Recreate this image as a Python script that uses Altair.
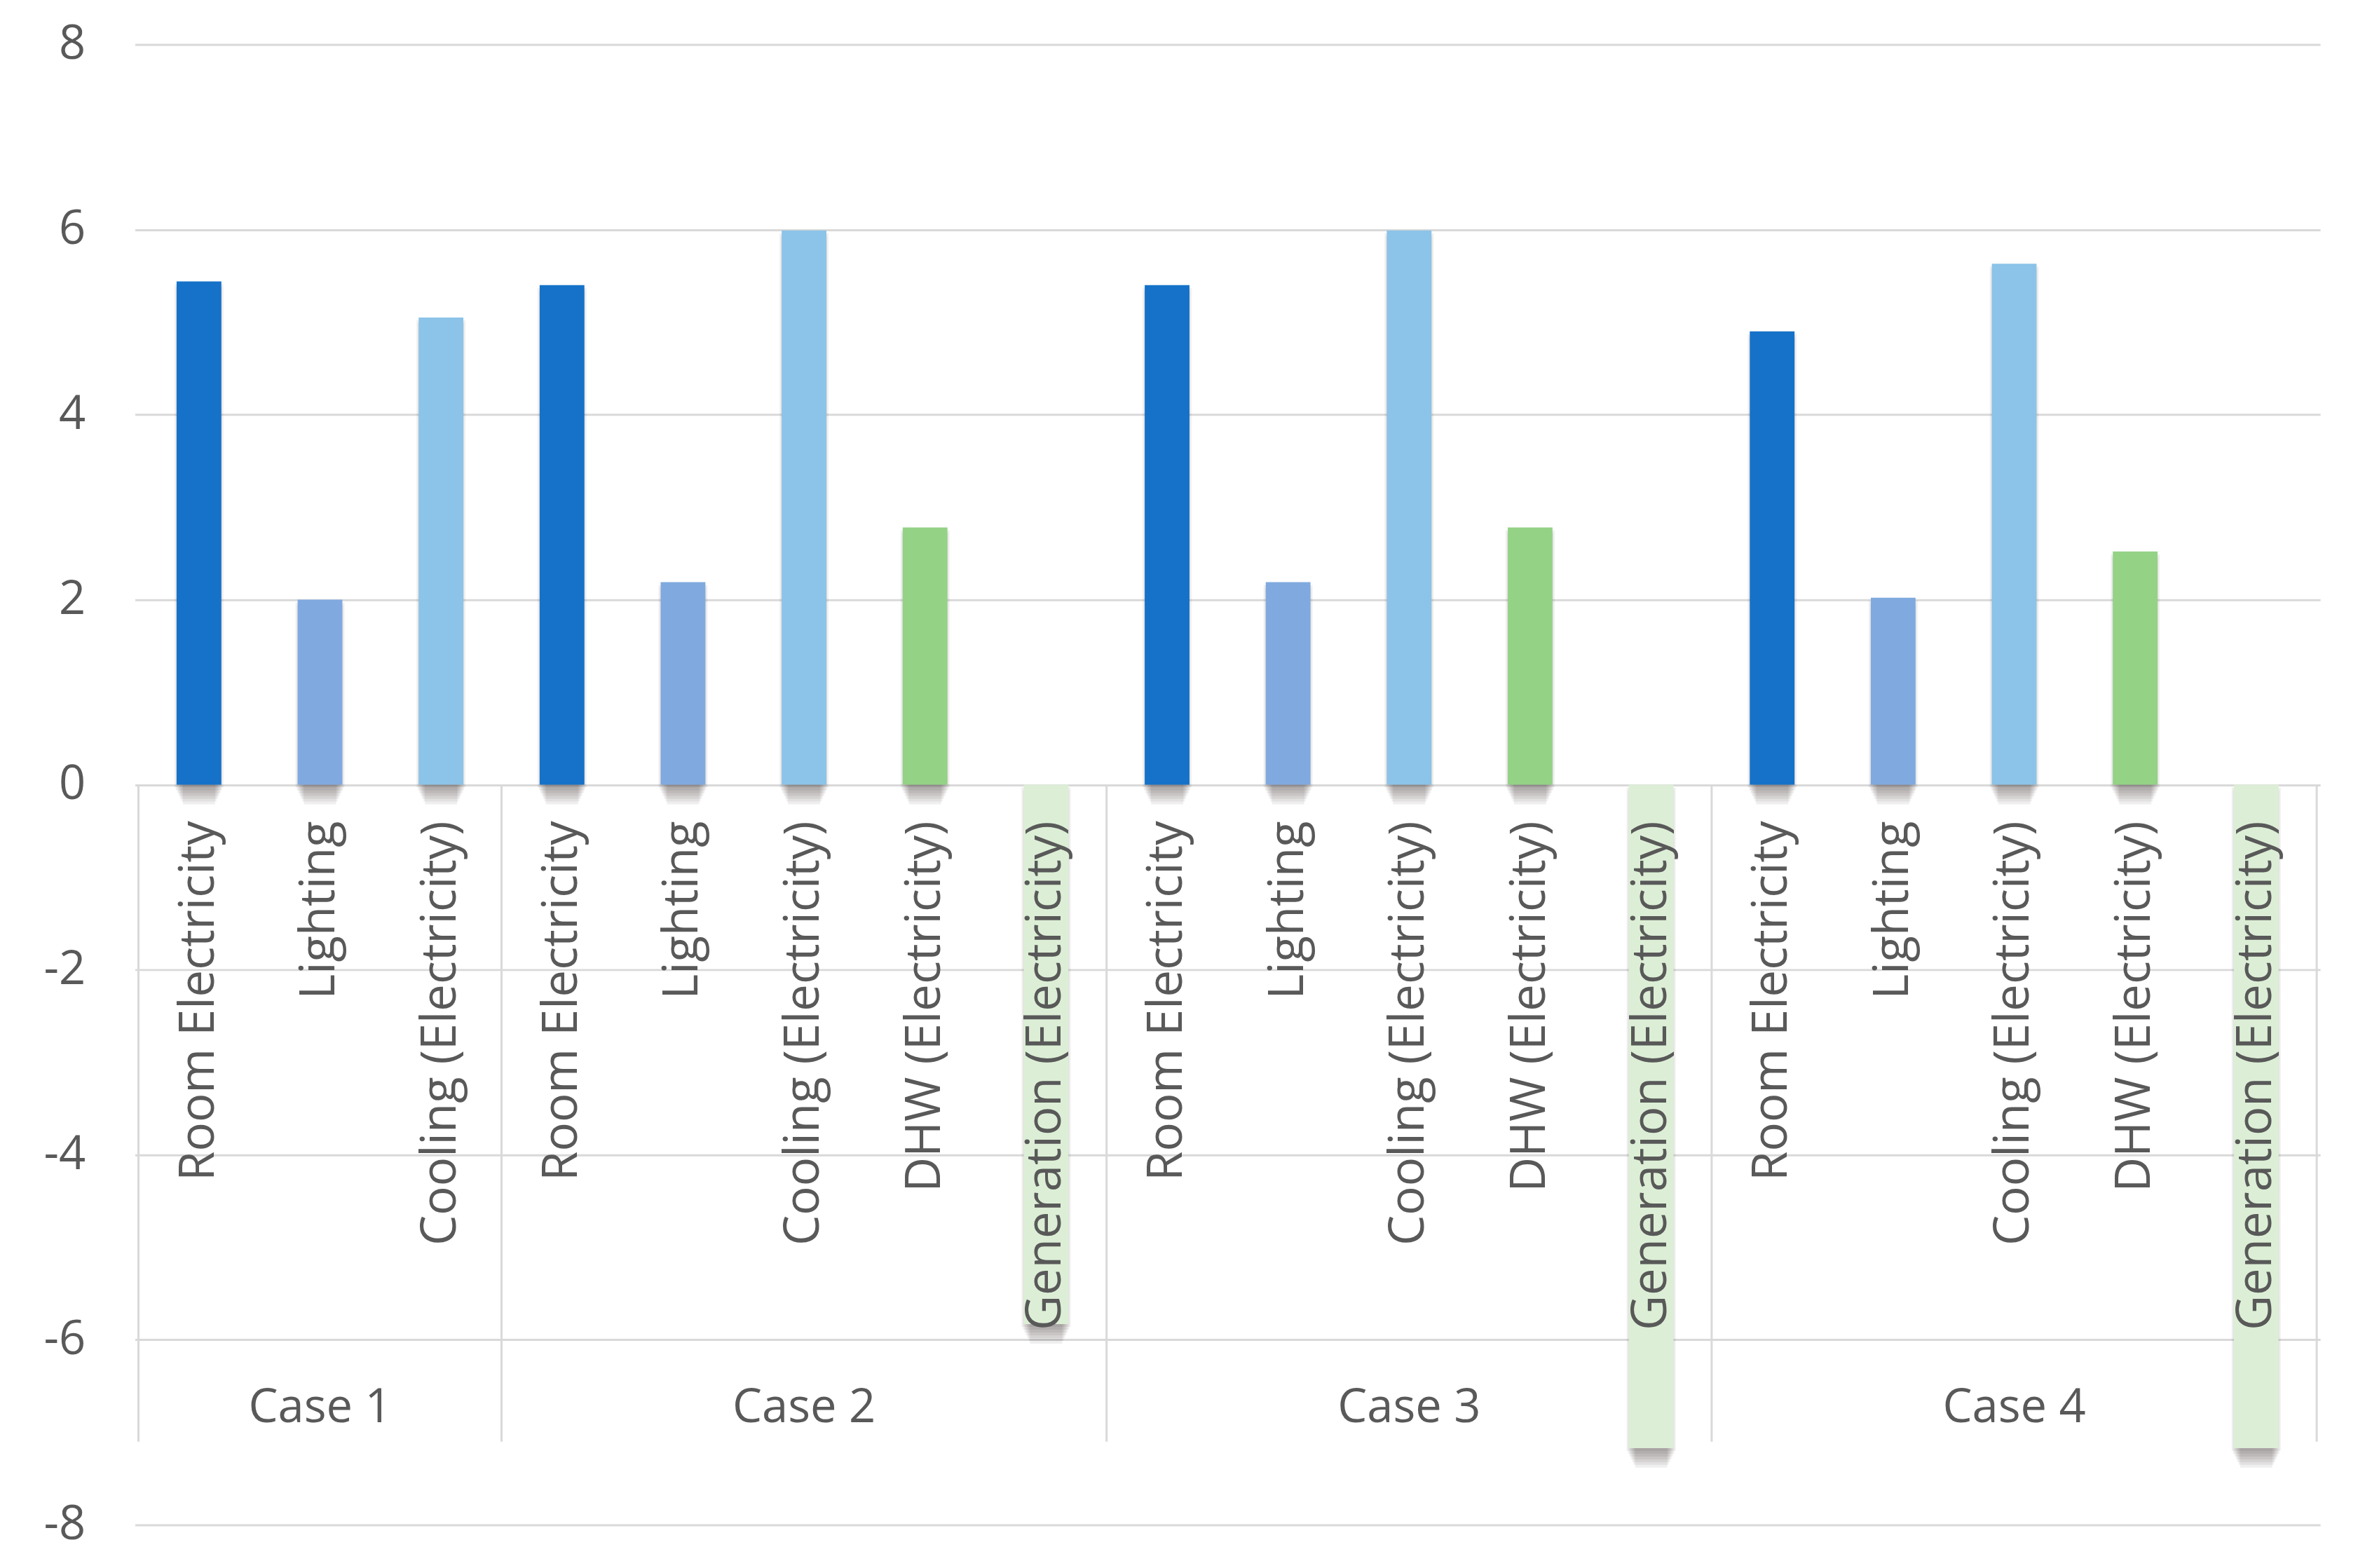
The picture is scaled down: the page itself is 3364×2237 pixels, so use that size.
import altair as alt
import pandas as pd

# ---- data ----
cases = ["Case 1", "Case 2", "Case 3", "Case 4"]
case1_items = ["Room Electricity", "Lighting", "Cooling (Electricity)"]
case1_values = [5.44, 2.00, 5.05]
case2_items = ["Room Electricity", "Lighting", "Cooling (Electricity)", "DHW (Electricity)", "Generation (Electricity)"]
case2_values = [5.40, 2.19, 5.99, 2.78, -5.83]
case3_items = ["Room Electricity", "Lighting", "Cooling (Electricity)", "DHW (Electricity)", "Generation (Electricity)"]
case3_values = [5.40, 2.19, 5.99, 2.78, -7.17]
case4_items = ["Room Electricity", "Lighting", "Cooling (Electricity)", "DHW (Electricity)", "Generation (Electricity)"]
case4_values = [4.90, 2.02, 5.63, 2.52, -7.17]
y_ticks = [-8, -6, -4, -2, 0, 2, 4, 6, 8]

series = ["Room Electricity", "Lighting", "Cooling (Electricity)", "DHW (Electricity)", "Generation (Electricity)"]
series_colors = ["#1572C8", "#80AADF", "#8CC3E8", "#94D286", "#DCEFD6"]

# ---- build tables ----
rows = []
case_rows = []
bounds = [0]
slot = 0
for case, items, vals in zip(cases,
                             [case1_items, case2_items, case3_items, case4_items],
                             [case1_values, case2_values, case3_values, case4_values]):
    start = slot
    for it, v in zip(items, vals):
        rows.append({"case": case, "item": it, "value": v, "pos": slot + 0.5})
        slot += 1
    case_rows.append({"case": case, "pos": (start + slot) / 2})
    bounds.append(slot)

df = pd.DataFrame(rows)
cdf = pd.DataFrame(case_rows)
bdf = pd.DataFrame({"b": bounds})

TEXT = "#595959"
GRID = "#D9D9D9"
FONT = "Open Sans"
n_slots = slot
SEP_BOTTOM = -7.1
CASE_LABEL_Y = -6.89

xs = alt.Scale(domain=[0, n_slots], nice=False, zero=False)
ys = alt.Scale(domain=[-8, 8], nice=False)

x_enc = alt.X("pos:Q", scale=xs, axis=None)

y_axis = alt.Axis(values=y_ticks, labelExpr="'' + datum.value", grid=True, gridColor=GRID,
                  gridWidth=3, domain=False, ticks=False, labelFont=FONT, labelFontSize=67,
                  labelColor=TEXT, labelPadding=71, title=None)

color_enc = alt.Color("item:N", scale=alt.Scale(domain=series, range=series_colors), legend=None)

# axis/grid layer (drawn first, behind everything)
axis_layer = alt.Chart(df).mark_bar(orient="vertical", size=1, opacity=0).encode(
    x=x_enc,
    y=alt.Y("value:Q", scale=ys, axis=y_axis),
    y2=alt.datum(0),
)

# soft drop shadow built from a few offset translucent bars
shadow_offsets = [4, 8, 12, 16, 20, 24, 28]
shadow_sizes = [70, 66, 62, 58, 54, 50, 46]
shadow_layers = []
for off, sz in zip(shadow_offsets, shadow_sizes):
    shadow_layers.append(
        alt.Chart(df).mark_bar(orient="vertical", size=sz, color="#302828", opacity=0.075,
                               yOffset=off, y2Offset=off).encode(
            x=x_enc,
            y=alt.Y("value:Q", scale=ys),
            y2=alt.datum(0),
        )
    )

seps = alt.Chart(bdf).mark_rule(color=GRID, strokeWidth=3).encode(
    x=alt.X("b:Q", scale=xs, axis=None),
    y=alt.datum(0, scale=ys),
    y2=alt.datum(SEP_BOTTOM),
)

bars = alt.Chart(df).mark_bar(orient="vertical", size=64).encode(
    x=x_enc,
    y=alt.Y("value:Q", scale=ys),
    y2=alt.datum(0),
    color=color_enc,
)

labels = alt.Chart(df).mark_text(angle=270, align="right", baseline="middle", dx=-52,
                                 font=FONT, fontSize=69, color=TEXT).encode(
    x=x_enc,
    y=alt.datum(0, scale=ys),
    text="item:N",
)

case_labels = alt.Chart(cdf).mark_text(align="center", baseline="alphabetic",
                                       font=FONT, fontSize=67, color=TEXT).encode(
    x=alt.X("pos:Q", scale=xs, axis=None),
    y=alt.datum(CASE_LABEL_Y, scale=ys),
    text="case:N",
)

chart = alt.layer(axis_layer, seps, *shadow_layers, bars, labels, case_labels).properties(
    width=3125, height=2117,
    autosize=alt.AutoSizeParams(type="none"),
    padding={"left": 185, "top": 53, "right": 46, "bottom": 59},
    background="white",
).configure_view(stroke=None)

chart.save("out.html", embed_options={"renderer": "svg", "actions": False})
